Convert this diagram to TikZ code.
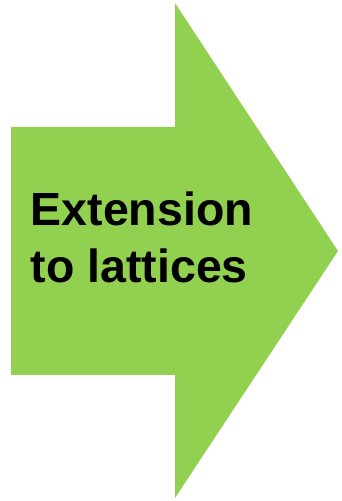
\documentclass[tikz,border=0pt]{standalone}
\usepackage{fontspec}
\setmainfont{Liberation Sans}
\usepackage{tikz}
\definecolor{arrowgreen}{RGB}{146, 208, 80}

\begin{document}
\begin{tikzpicture}[x=1pt, y=1pt]
	\useasboundingbox (0,0) rectangle (341,501);
	\fill[arrowgreen] (11,126) -- (11,374) -- (175,374) -- (175,498) -- (338,250) -- (175,3) -- (175,126) -- cycle;
	\node[anchor=base west, inner sep=0pt, align=left, text=black, font=\fontsize{46.5}{57}\selectfont\bfseries] (label) at (30.5,218) {Extension\\to lattices};
\end{tikzpicture}
\end{document}
